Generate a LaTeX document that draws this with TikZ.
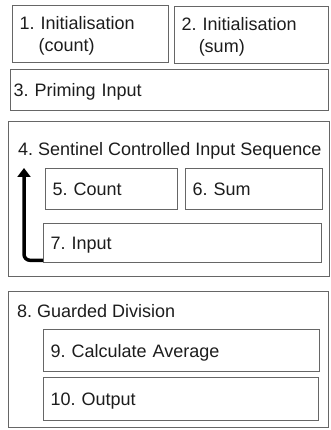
\documentclass[tikz,border=0pt]{standalone}
\usepackage{fontspec}
\setsansfont{Liberation Sans}
\usetikzlibrary{arrows.meta,positioning}
\definecolor{edgegray}{HTML}{666666}
\definecolor{ink}{HTML}{1C1C1C}
\frenchspacing

\begin{document}
\begin{tikzpicture}[
  x=1pt,y=-1pt,
  every node/.style={font=\sffamily\fontsize{18}{22}\selectfont,text=ink},
  blk/.style={draw=edgegray,line width=1.3pt,anchor=north west,inner xsep=7pt,inner ysep=0pt,align=left,text depth=0pt},
  group/.style={draw=edgegray,line width=1.3pt,anchor=north west,inner sep=0pt},
  title/.style={anchor=base west,inner sep=0pt},
  loop/.style={-{Triangle[width=13pt,length=9pt]},line width=3.5pt,rounded corners=6pt,draw=black}
]
\useasboundingbox (0,0) rectangle (330,430);
% initialisation and priming
\node[blk,text depth=22pt,text width=142pt,minimum height=57pt] (initcount) at (12,5) {1. Initialisation\\\hspace*{1.05em}(count)};
\node[blk,text depth=22pt,text width=140pt,minimum height=57pt] (initsum) at (174,6) {2. Initialisation\\\hspace*{0.95em}(sum)};
\node[blk,inner xsep=3pt,text width=312pt,minimum height=41pt] (priming) at (10,69) {3. Priming Input};
% loop body
\node[group,minimum width=321pt,minimum height=155pt] (sequence) at (8,121) {};
\node[title] (seqtitle) at (18,156) {4. Sentinel Controlled Input Sequence};
\node[blk,text width=118pt,minimum height=41pt] (count) at (45,168) {5. Count};
\node[blk,text width=123pt,minimum height=41pt] (sum) at (185,168) {6. Sum};
\node[blk,text width=264pt,minimum height=39pt] (input) at (43,223) {7. Input};
\coordinate (looptop) at (24,168);
\draw[loop] ([yshift=3pt]input.south west) -| (looptop);
% after the loop
\node[group,minimum width=320pt,minimum height=136pt] (guard) at (8,291) {};
\node[title] (guardtitle) at (17,317) {8. Guarded Division};
\node[blk,text width=262pt,minimum height=42pt] (average) at (43,329) {9. Calculate Average};
\node[blk,text width=261pt,minimum height=43pt] (output) at (43,377) {10. Output};
\end{tikzpicture}
\end{document}
